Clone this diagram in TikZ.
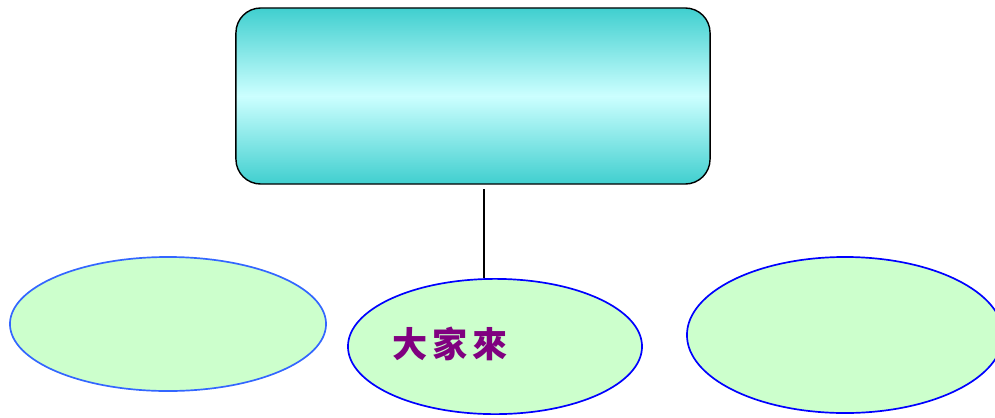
\documentclass[tikz,border=0pt]{standalone}
\usepackage{fontspec}
\usepackage{xcolor}
\usepackage{tikz}
\usetikzlibrary{shapes.geometric}

\newfontfamily\cjk{Noto Sans CJK TC}

\definecolor{turq}{RGB}{64,207,207}
\definecolor{paleturq}{RGB}{204,255,255}
\definecolor{mint}{RGB}{204,255,204}
\definecolor{skyline}{RGB}{51,102,255}
\definecolor{plum}{RGB}{128,0,128}

\tikzset{
    bubble/.style={ellipse, draw=blue, fill=mint, line width=1.2pt, inner sep=0pt}
}

\begin{document}
\begin{tikzpicture}[x=0.025cm, y=-0.025cm]
    \clip (0,0) rectangle (995,417);

    \node[draw, line width=1pt, rounded corners=0.62cm,
          top color=turq, bottom color=turq, middle color=paleturq,
          minimum width=11.85cm, minimum height=4.4cm] (topic) at (473,96) {};

    \node[bubble, draw=skyline, minimum width=7.9cm, minimum height=3.35cm] (left) at (168,324) {};
    \node[bubble, minimum width=7.35cm, minimum height=3.38cm] (mid) at (495,346.5) {};
    \node[bubble, minimum width=7.9cm, minimum height=3.9cm] (right) at (845,335) {};

    \node[anchor=west, inner sep=0pt, text=plum, font=\cjk\bfseries\fontsize{25}{25}\selectfont] (word) at (392,344) {大\hspace{3.5pt}家\hspace{3.5pt}來};

    \coordinate (stem) at (484,189);
    \draw[line width=0.9pt] (stem) -- (stem |- mid.north);
\end{tikzpicture}
\end{document}
